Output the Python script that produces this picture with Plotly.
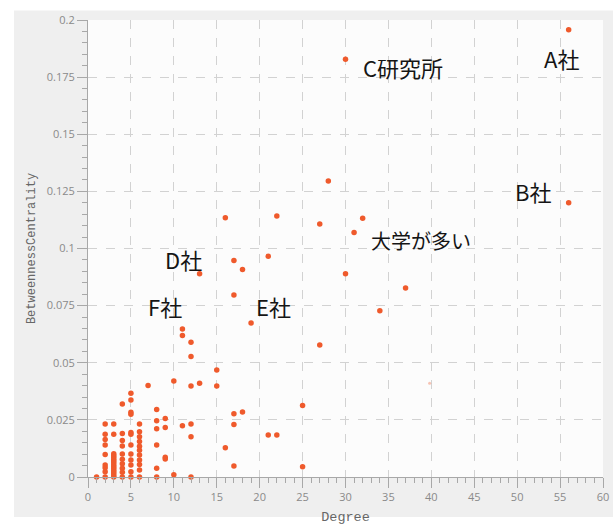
import plotly.graph_objects as go

# ---- data ----
degree = (
    [1]
    + [2] * 9
    + [3] * 16
    + [4] * 10
    + [5] * 12
    + [6] * 11
    + [7]
    + [8] * 6
    + [9] * 4
    + [10] * 2
    + [11] * 3
    + [12] * 6
    + [13] * 2
    + [15] * 2
    + [16] * 2
    + [17] * 5
    + [18] * 2
    + [19]
    + [21] * 2
    + [22] * 2
    + [25] * 2
    + [27] * 2
    + [28]
    + [30] * 2
    + [31]
    + [32]
    + [34]
    + [37]
    + [56] * 2
)
betweenness = [
    0.0,
    0.0232, 0.0187, 0.0164, 0.014, 0.0099, 0.0052, 0.0041, 0.0023, 0.0,
    0.0232, 0.0187, 0.0102, 0.0094, 0.0086, 0.0078, 0.007, 0.0062, 0.0054, 0.0046,
    0.0038, 0.003, 0.0022, 0.0014, 0.0006, 0.0,
    0.032, 0.019, 0.016, 0.0136, 0.0101, 0.0078, 0.0058, 0.0038, 0.0021, 0.0,
    0.0366, 0.0337, 0.0283, 0.0275, 0.0195, 0.0187, 0.014, 0.0101, 0.0074, 0.0052, 0.0023, 0.0,
    0.0232, 0.0198, 0.0176, 0.0155, 0.0135, 0.0117, 0.0096, 0.0074, 0.0055, 0.0031, 0.0,
    0.040,
    0.0295, 0.0246, 0.0211, 0.014, 0.0038, 0.0,
    0.0256, 0.0217, 0.0086, 0.0079,
    0.042, 0.001,
    0.0648, 0.0619, 0.0224,
    0.059, 0.0527, 0.0398, 0.0232, 0.0176, 0.0,
    0.089, 0.041,
    0.0468, 0.0398,
    0.1135, 0.0128,
    0.0947, 0.0796, 0.0277, 0.023, 0.0048,
    0.0908, 0.0284,
    0.0674,
    0.0966, 0.0184,
    0.1142, 0.0184,
    0.0313, 0.0045,
    0.1107, 0.0578,
    0.1295,
    0.1828, 0.0889,
    0.107,
    0.1132,
    0.0728,
    0.0827,
    0.1957, 0.120,
]

faint_x = [39.8]
faint_y = [0.041]

label_text = ["A社", "C研究所", "B社", "大学が多い", "D社", "F社", "E社"]
label_x = [55.2, 36.7, 51.8, 38.8, 11.1, 8.95, 21.6]
label_y = [0.1834, 0.1793, 0.1251, 0.1036, 0.0956, 0.0747, 0.0747]
label_size = [22, 22, 22, 20, 22, 22, 22]

x_ticks = [0, 5, 10, 15, 20, 25, 30, 35, 40, 45, 50, 55, 60]
y_ticks = [0, 0.025, 0.05, 0.075, 0.1, 0.125, 0.15, 0.175, 0.2]
y_tick_text = ["0", "0.025", "0.05", "0.075", "0.1", "0.125", "0.15", "0.175", "0.2"]

# ---- figure ----
W, H = 613, 530
ML, MR, MT, MB = 88, 10, 19.5, 53
pw = W - ML - MR
ph = H - MT - MB

def px2paper_x(px):
    return (px - ML) / pw

def py2paper_y(py):
    return (H - MB - py) / ph

fig = go.Figure()

fig.add_trace(go.Scatter(
    x=degree, y=betweenness, mode="markers",
    marker=dict(color="#ef5a2c", size=5.5, line=dict(width=0)),
    cliponaxis=False, hoverinfo="x+y", showlegend=False,
))
fig.add_trace(go.Scatter(
    x=faint_x, y=faint_y, mode="markers",
    marker=dict(color="#ef5a2c", size=3, opacity=0.35),
    showlegend=False,
))

for t, xv, yv, fs in zip(label_text, label_x, label_y, label_size):
    fig.add_annotation(
        x=xv, y=yv, xref="x", yref="y", text=t, showarrow=False,
        font=dict(family="Noto Sans CJK JP, Noto Sans, sans-serif", size=fs, color="#151515"),
    )

axis_common = dict(
    showline=True, linecolor="#a8a8a8", linewidth=1,
    ticks="outside", ticklen=10, tickcolor="#a8a8a8", tickwidth=1,
    showgrid=True, gridcolor="#d2d2d2", griddash="dash", gridwidth=1,
    zeroline=False, mirror=False,
    tickfont=dict(family="Open Sans, sans-serif", size=11, color="#8a8a8a"),
    automargin=False,
)

fig.update_xaxes(
    range=[0, 60], tickmode="array", tickvals=x_ticks,
    minor=dict(dtick=1, ticklen=5, tickcolor="#a8a8a8", ticks="outside", showgrid=False),
    title=dict(text="Degree", standoff=8,
               font=dict(family="Liberation Mono, DejaVu Sans Mono, monospace", size=13.5, color="#666666")),
    **axis_common,
)
fig.update_yaxes(
    range=[0, 0.2], tickmode="array", tickvals=y_ticks, ticktext=y_tick_text,
    minor=dict(dtick=0.005, ticklen=5, tickcolor="#a8a8a8", ticks="outside", showgrid=False),
    title=dict(text="BetweennessCentrality", standoff=8,
               font=dict(family="Liberation Mono, DejaVu Sans Mono, monospace", size=12, color="#666666")),
    **axis_common,
)

fig.update_layout(
    width=W, height=H,
    margin=dict(l=ML, r=MR, t=MT, b=MB, pad=0),
    paper_bgcolor="#ffffff",
    plot_bgcolor="#fcfcfc",
    hovermode=False,
    shapes=[
        dict(type="rect", xref="paper", yref="paper", layer="below",
             x0=px2paper_x(14), x1=px2paper_x(613), y0=py2paper_y(517), y1=py2paper_y(10),
             fillcolor="#efefef", line=dict(width=0)),
        dict(type="rect", xref="paper", yref="paper", layer="below",
             x0=0, x1=1, y0=0, y1=1, fillcolor="#fcfcfc", line=dict(width=0)),
    ],
)

fig.write_html(
    "out.html",
    config={"displayModeBar": False},
    post_script="document.body.style.margin='0';document.body.style.overflow='hidden';",
)
